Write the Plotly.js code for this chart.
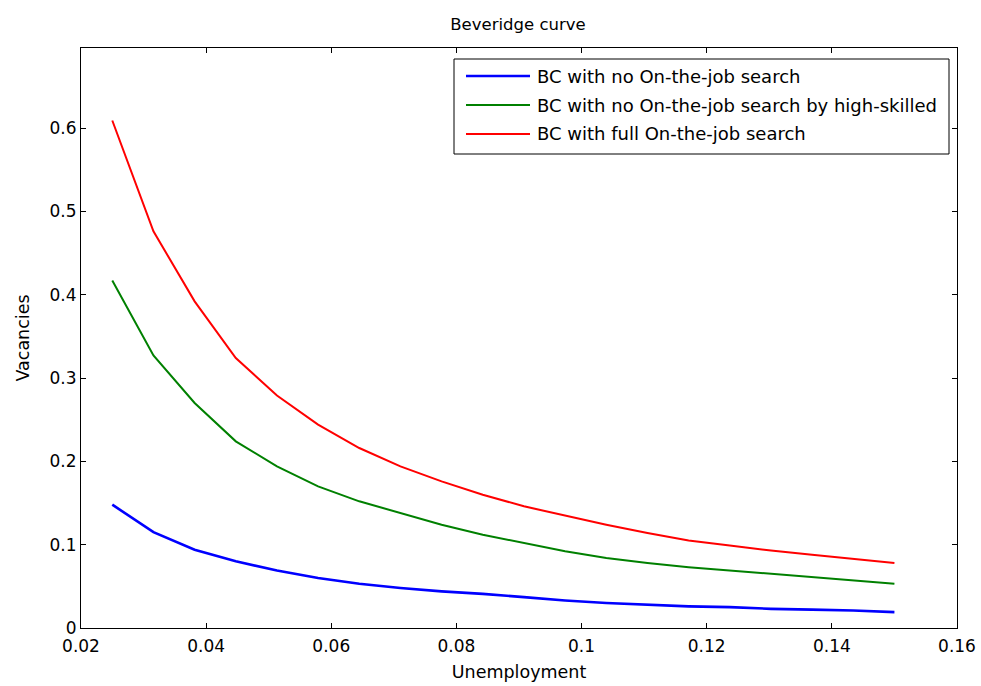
<!DOCTYPE html>
<html>
<head>
<meta charset="utf-8">
<script src="https://cdn.plot.ly/plotly-3.0.1.min.js"></script>
<style>html,body{margin:0;padding:0;background:#fff;}#chart{width:981px;height:686px;}</style>
</head>
<body>
<div id="chart"></div>
<script>
const unemployment = [0.025, 0.03158, 0.03816, 0.04474, 0.05132, 0.05789, 0.06447, 0.07105, 0.07763, 0.08421,
  0.09079, 0.09737, 0.10395, 0.11053, 0.11711, 0.12368, 0.13026, 0.13684, 0.14342, 0.15];
const bcNoOJS = [0.148, 0.115, 0.094, 0.080, 0.069, 0.060, 0.053, 0.048, 0.044, 0.041,
  0.037, 0.033, 0.030, 0.028, 0.026, 0.025, 0.023, 0.022, 0.021, 0.019];
const bcNoOJSHigh = [0.417, 0.327, 0.270, 0.224, 0.194, 0.170, 0.152, 0.138, 0.124, 0.112,
  0.102, 0.092, 0.084, 0.078, 0.073, 0.069, 0.065, 0.061, 0.057, 0.053];
const bcFullOJS = [0.609, 0.476, 0.392, 0.324, 0.279, 0.244, 0.216, 0.194, 0.176, 0.160,
  0.146, 0.135, 0.124, 0.114, 0.105, 0.099, 0.093, 0.088, 0.083, 0.078];
const seriesNames = ['BC with no On-the-job search', 'BC with no On-the-job search by high-skilled', 'BC with full On-the-job search'];
const seriesColors = ['#0000ff', '#008000', '#ff0000'];
const seriesWidths = [2.6, 2, 2];
const seriesValues = [bcNoOJS, bcNoOJSHigh, bcFullOJS];

const font = 'DejaVu Sans, sans-serif';
const traces = seriesValues.map((v, i) => ({
  x: unemployment, y: v, name: seriesNames[i], mode: 'lines',
  line: {color: seriesColors[i], width: seriesWidths[i]}
}));

// plot area in px: x 81..957, y 48..628
const L = 81, R = 957, T = 48, B = 628;
const px = (p) => (p - L) / (R - L);
const py = (p) => (B - p) / (B - T);

const shapes = [{type: 'rect', xref: 'paper', yref: 'paper', x0: px(454), x1: px(949), y0: py(154), y1: py(59),
  line: {color: '#000', width: 1}, fillcolor: '#fff', layer: 'above'}];
const annotations = [];
const rowY = [76, 105, 134];
seriesNames.forEach((n, i) => {
  shapes.push({type: 'line', xref: 'paper', yref: 'paper', x0: px(466), x1: px(530), y0: py(rowY[i]), y1: py(rowY[i]),
    line: {color: seriesColors[i], width: seriesWidths[i]}, layer: 'above'});
  annotations.push({xref: 'paper', yref: 'paper', x: px(535), y: py(rowY[i]), xanchor: 'left', yanchor: 'middle',
    text: n, showarrow: false, font: {family: font, size: 18, color: '#000'}});
});

const axisCommon = {
  showgrid: false, zeroline: false, showline: true, linecolor: '#000', linewidth: 1,
  mirror: 'ticks', ticks: 'inside', ticklen: 5, tickcolor: '#000', tickwidth: 1,
  tickfont: {family: font, size: 17, color: '#000'}
};
const layout = {
  width: 981, height: 686,
  paper_bgcolor: '#fff', plot_bgcolor: '#fff',
  margin: {l: L, r: 981 - R, t: T, b: 686 - B},
  font: {family: font, color: '#000'},
  title: {text: 'Beveridge curve', font: {family: font, size: 16.5, color: '#000'}, x: 0.528, xanchor: 'center', y: 0.965, yanchor: 'middle'},
  xaxis: Object.assign({}, axisCommon, {range: [0.02, 0.16], dtick: 0.02, tick0: 0.02, ticklabelstandoff: 3,
    title: {text: 'Unemployment', font: {family: font, size: 17.5, color: '#000'}, standoff: 10}}),
  yaxis: Object.assign({}, axisCommon, {range: [0, 0.696], dtick: 0.1, tick0: 0,
    title: {text: 'Vacancies', font: {family: font, size: 17.5, color: '#000'}, standoff: 15}}),
  showlegend: false,
  shapes: shapes,
  annotations: annotations
};
Plotly.newPlot('chart', traces, layout, {displayModeBar: false, staticPlot: true});
</script>
</body>
</html>
